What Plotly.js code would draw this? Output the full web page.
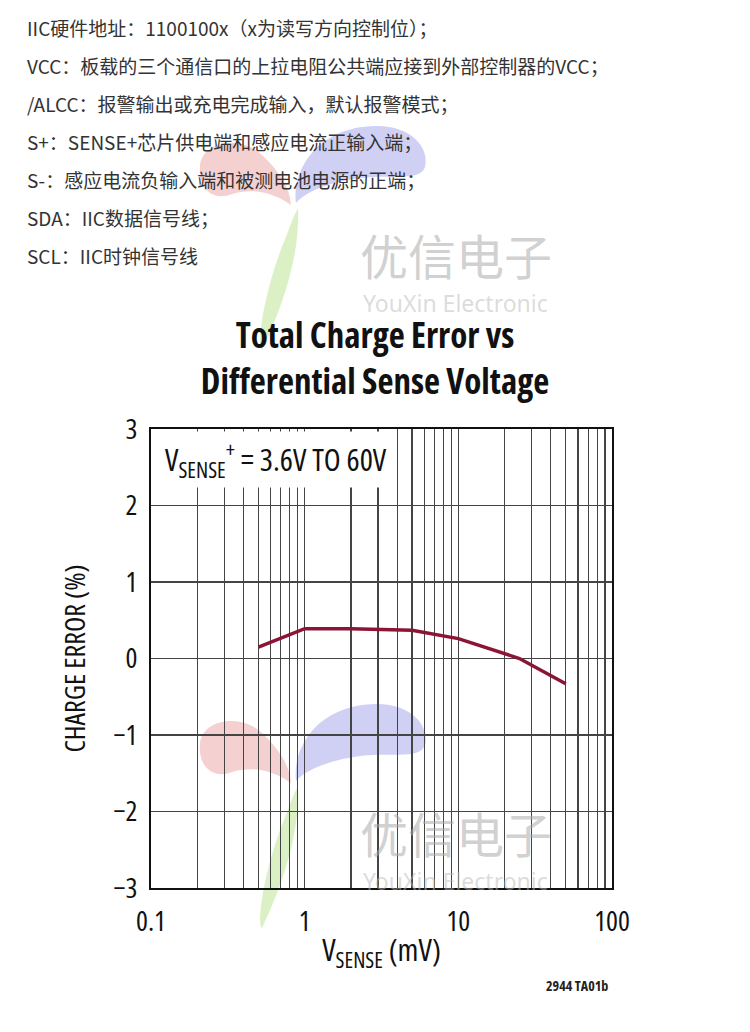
<!DOCTYPE html>
<html>
<head>
<meta charset="utf-8">
<script src="https://cdn.plot.ly/plotly-3.0.1.min.js"></script>
<style>
html,body{margin:0;padding:0;background:#fff;}
#chart{width:750px;height:1032px;}
svg text{font-stretch:75%;}
</style>
</head>
<body>
<div id="chart"></div>
<script>
// ---- data ----
const vsense = [0.5, 1, 2, 5, 10, 25, 50];            // mV
const chargeError = [0.15, 0.39, 0.39, 0.37, 0.26, 0.0, -0.33]; // %
const decades = [0.1, 1, 10, 100];
const decadeLabels = ["0.1", "1", "10", "100"];
const yTicks = [-3, -2, -1, 0, 1, 2, 3];
const introLines = [
  "IIC硬件地址：1100100x（x为读写方向控制位）；",
  "VCC：板载的三个通信口的上拉电阻公共端应接到外部控制器的VCC；",
  "/ALCC：报警输出或充电完成输入，默认报警模式；",
  "S+：SENSE+芯片供电端和感应电流正输入端；",
  "S-：感应电流负输入端和被测电池电源的正端；",
  "SDA：IIC数据信号线；",
  "SCL：IIC时钟信号线"
];
const titleText = "Total Charge Error vs<br>Differential Sense Voltage";
const condText = "V<sub>SENSE</sub><sup>+</sup> = 3.6V TO 60V";
const xTitle = "V<sub>SENSE</sub> (mV)";
const yTitle = "CHARGE ERROR (%)";
const figId = "2944 TA01b";
const wmCn = "优信电子";
const wmEn = "YouXin Electronic";

// ---- geometry helpers ----
const L = 151, R = 612, T = 429, B = 888;
const fx = x => (x - L) / (R - L);
const fy = y => (B - y) / (B - T);

const gridVals = [], gridText = [];
for (let d = 0; d < decades.length; d++) {
  const base = decades[d];
  const maxM = d === decades.length - 1 ? 1 : 9;
  for (let m = 1; m <= maxM; m++) {
    gridVals.push(+(base * m).toPrecision(3));
    gridText.push(m === 1 ? decadeLabels[d] : "");
  }
}

const CJK = "Noto Sans CJK SC, Noto Sans, sans-serif";
const COND = "Open Sans, Roboto, sans-serif";

function pathPaper(cmds, dy) {
  return cmds.map(c => {
    const out = [c[0]];
    for (let i = 1; i < c.length; i += 2) {
      out.push(fx(c[i]).toFixed(4) + "," + fy(c[i + 1] + dy).toFixed(4));
    }
    return out[0] + " " + out.slice(1).join(" ");
  }).join(" ") + " Z";
}
const redPetal = [["M",200,745],["C",200,720,240,712,262,733],["C",278,748,290,765,291,783],["C",275,772,255,765,232,772],["C",212,780,198,765,200,745]];
const bluePetal = [["M",296,781],["C",292,745,320,705,375,704],["C",410,703,430,725,425,745],["C",420,760,390,752,360,756],["C",330,760,305,770,296,781]];
const stem = [["M",298,786],["C",300,830,285,880,262,928],["C",257,925,262,880,280,830],["C",288,810,293,795,298,786]];

const shapes = [];
[0, -578].forEach(dy => {
  shapes.push({type:"path", xref:"paper", yref:"paper", layer:"below", path:pathPaper(redPetal, dy), fillcolor:"rgba(232,150,150,0.45)", line:{width:0}});
  shapes.push({type:"path", xref:"paper", yref:"paper", layer:"below", path:pathPaper(bluePetal, dy), fillcolor:"rgba(150,150,232,0.45)", line:{width:0}});
  shapes.push({type:"path", xref:"paper", yref:"paper", layer:"below", path:pathPaper(stem, dy), fillcolor:"rgba(190,230,150,0.55)", line:{width:0}});
});

const annotations = [];
const lineY = [27, 66, 104, 142, 180, 218, 256];
introLines.forEach((t, i) => {
  annotations.push({text:t, xref:"paper", yref:"paper", x:fx(25), y:fy(lineY[i]), xanchor:"left", yanchor:"middle", showarrow:false, font:{family:CJK, size:19, color:"#333"}});
});
[0, -578].forEach(dy => {
  annotations.push({text:wmCn, xref:"paper", yref:"paper", x:fx(456), y:fy(832 + dy), xanchor:"center", yanchor:"middle", showarrow:false, font:{family:CJK, size:48, color:"rgba(170,170,170,0.55)"}});
  annotations.push({text:wmEn, xref:"paper", yref:"paper", x:fx(455), y:fy(881 + dy), xanchor:"center", yanchor:"middle", showarrow:false, font:{family:"Noto Sans, sans-serif", size:23, color:"rgba(185,185,185,0.5)"}});
});
annotations.push({text:condText, xref:"paper", yref:"paper", x:fx(161), y:fy(431), xanchor:"left", yanchor:"top", showarrow:false, bgcolor:"#fff", borderpad:3, font:{family:COND, size:31, color:"#111"}});
annotations.push({text:"<b>" + figId + "</b>", xref:"paper", yref:"paper", x:fx(577), y:fy(985), xanchor:"center", yanchor:"middle", showarrow:false, font:{family:COND, size:14, color:"#222"}});

const trace = {x:vsense, y:chargeError, type:"scatter", mode:"lines", line:{color:"#8c1435", width:3.5}, hoverinfo:"skip"};

const layout = {
  width:750, height:1032,
  margin:{l:L, r:750 - R, t:T, b:1032 - B},
  paper_bgcolor:"#fff", plot_bgcolor:"rgba(0,0,0,0)",
  showlegend:false,
  title:{text:"<b>" + titleText + "</b>", xref:"container", yref:"container", x:0.5, xanchor:"center", y:1 - 348/1032, yanchor:"middle", font:{family:COND, size:35, color:"#111"}},
  xaxis:{type:"log", range:[-1, 2], tickvals:gridVals, ticktext:gridText, ticks:"", showgrid:true, gridcolor:"#444", gridwidth:1.2,
    showline:true, mirror:true, linecolor:"#111", linewidth:2, zeroline:false, ticklabelstandoff:7,
    tickfont:{family:COND, size:28, color:"#111"},
    title:{text:xTitle, standoff:2, font:{family:COND, size:31, color:"#111"}}},
  yaxis:{range:[-3, 3], tickvals:yTicks, ticks:"", showgrid:true, gridcolor:"#444", gridwidth:1.2,
    showline:true, mirror:true, linecolor:"#111", linewidth:2, zeroline:false, ticklabelstandoff:6,
    tickfont:{family:COND, size:28, color:"#111"},
    title:{text:yTitle, standoff:20, font:{family:COND, size:28, color:"#111"}}},
  shapes:shapes,
  annotations:annotations
};

Plotly.newPlot("chart", [trace], layout, {staticPlot:true, displayModeBar:false});
</script>
</body>
</html>
